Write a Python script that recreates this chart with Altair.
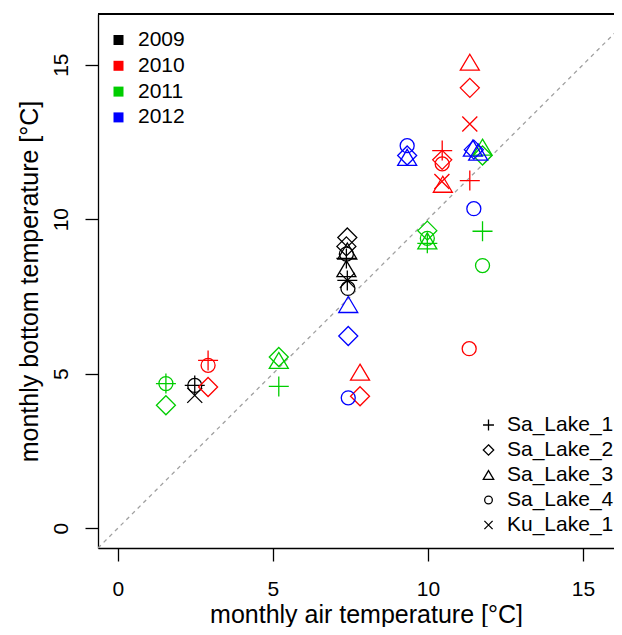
import altair as alt
import pandas as pd

# ---- data ----
years = (["2009"] * 12) + (["2010"] * 15) + (["2011"] * 14) + (["2012"] * 10)
lakes = [
    # 2009
    "Sa_Lake_1", "Sa_Lake_4", "Ku_Lake_1", "Sa_Lake_2", "Sa_Lake_2", "Sa_Lake_3",
    "Sa_Lake_4", "Sa_Lake_1", "Sa_Lake_3", "Sa_Lake_1", "Ku_Lake_1", "Sa_Lake_4",
    # 2010
    "Sa_Lake_1", "Sa_Lake_4", "Sa_Lake_2", "Sa_Lake_3", "Sa_Lake_2", "Sa_Lake_3",
    "Sa_Lake_2", "Ku_Lake_1", "Sa_Lake_1", "Sa_Lake_1", "Sa_Lake_2", "Sa_Lake_4",
    "Ku_Lake_1", "Sa_Lake_3", "Sa_Lake_4",
    # 2011
    "Sa_Lake_1", "Sa_Lake_4", "Sa_Lake_2", "Sa_Lake_2", "Sa_Lake_3", "Sa_Lake_1",
    "Sa_Lake_2", "Sa_Lake_4", "Sa_Lake_3", "Sa_Lake_1", "Sa_Lake_3", "Sa_Lake_2",
    "Sa_Lake_1", "Sa_Lake_4",
    # 2012
    "Sa_Lake_4", "Sa_Lake_2", "Sa_Lake_3", "Sa_Lake_2", "Sa_Lake_3", "Sa_Lake_3",
    "Sa_Lake_4", "Sa_Lake_3", "Sa_Lake_2", "Sa_Lake_4",
]
air = [
    # 2009
    2.48, 2.48, 2.48, 7.40, 7.37, 7.40, 7.37, 7.37, 7.37, 7.40, 7.40, 7.42,
    # 2010
    2.91, 2.91, 2.91, 7.81, 7.81, 11.35, 11.35, 11.35, 11.35, 10.46, 10.46, 10.46,
    10.45, 10.48, 11.33,
    # 2011
    1.55, 1.55, 1.55, 5.19, 5.19, 5.19, 9.98, 9.98, 9.98, 9.98, 11.76, 11.76,
    11.76, 11.76,
    # 2012
    9.33, 9.33, 9.33, 11.48, 11.45, 11.62, 11.48, 7.43, 7.43, 7.43,
]
bottom = [
    # 2009
    4.62, 4.62, 4.30, 9.41, 9.12, 8.97, 8.87, 8.73, 8.40, 8.02, 8.02, 7.76,
    # 2010
    5.43, 5.27, 4.57, 5.05, 4.27, 15.08, 14.25, 13.08, 11.25, 12.22, 11.92, 11.79,
    11.22, 11.13, 5.81,
    # 2011
    4.68, 4.68, 3.98, 5.54, 5.43, 4.59, 9.63, 9.38, 9.30, 9.22, 12.33, 12.06,
    9.61, 8.50,
    # 2012
    12.38, 12.06, 12.00, 12.25, 12.30, 12.17, 10.34, 7.24, 6.22, 4.22,
]

year_domain = ["2009", "2010", "2011", "2012"]
year_colors = ["#000000", "#FF0000", "#00CD00", "#0000FF"]
lake_domain = ["Sa_Lake_1", "Sa_Lake_2", "Sa_Lake_3", "Sa_Lake_4", "Ku_Lake_1"]
lake_shapes = [
    "M-1,0L1,0M0,-1L0,1",
    "M0,-0.95L0.95,0L0,0.95L-0.95,0Z",
    "M0,-0.8L0.95,0.8L-0.95,0.8Z",
    "M0.7,0A0.7,0.7,0,1,1,-0.7,0A0.7,0.7,0,1,1,0.7,0Z",
    "M-0.75,-0.75L0.75,0.75M-0.75,0.75L0.75,-0.75",
]
x_ticks = [0, 5, 10, 15]
y_ticks = [0, 5, 10, 15]
x_domain = [-0.64, 16.0]
y_domain = [-0.64, 16.64]
diag = [-0.64, 16.64]

df = pd.DataFrame({"year": years, "lake": lakes, "air": air, "bottom": bottom})
diag_df = pd.DataFrame({"air": diag, "bottom": diag})

W, H = 516, 534
FONT = "Liberation Sans"
LW = 1.3

xs = alt.Scale(domain=x_domain, nice=False, zero=False)
ys = alt.Scale(domain=y_domain, nice=False, zero=False)

xaxis = alt.Axis(
    values=x_ticks, title="monthly air temperature [°C]", tickSize=13,
    labelPadding=17, labelFlush=False, titleX=268, titleY=74,
    titleBaseline="alphabetic", titleAlign="center",
)
yaxis = alt.Axis(
    values=y_ticks, title="monthly bottom temperature [°C]", tickSize=13,
    labelPadding=18, labelFlush=False, labelAngle=270, labelAlign="center",
    labelBaseline="alphabetic", titleX=-61, titleY=267, titleAngle=270,
    titleBaseline="alphabetic", titleAlign="center",
)

diag_line = alt.Chart(diag_df).mark_line(
    color="#A0A0A0", strokeDash=[4, 4], strokeWidth=LW, clip=True
).encode(
    x=alt.X("air:Q", scale=xs, axis=xaxis),
    y=alt.Y("bottom:Q", scale=ys, axis=yaxis),
)

points = alt.Chart(df).mark_point(
    filled=False, strokeWidth=LW, size=400, opacity=1
).encode(
    x=alt.X("air:Q", scale=xs, axis=xaxis),
    y=alt.Y("bottom:Q", scale=ys, axis=yaxis),
    stroke=alt.Stroke("year:N", scale=alt.Scale(domain=year_domain, range=year_colors), legend=None),
    shape=alt.Shape(
        "lake:N",
        scale=alt.Scale(domain=lake_domain, range=lake_shapes),
        legend=alt.Legend(
            title=None, orient="none", legendX=380, legendY=400.5, padding=0,
            labelOffset=8, rowPadding=3, symbolSize=120, symbolStrokeWidth=LW,
            symbolStrokeColor="black", labelFontSize=21, labelFont=FONT,
            labelColor="black",
        ),
    ),
)

year_key = alt.Chart(df).transform_calculate(
    season="datum.year"
).transform_filter("false").mark_square(
    filled=True, opacity=1
).encode(
    x=alt.X("air:Q", scale=xs, axis=xaxis),
    y=alt.Y("bottom:Q", scale=ys, axis=yaxis),
    fill=alt.Fill(
        "season:N",
        scale=alt.Scale(domain=year_domain, range=year_colors),
        legend=alt.Legend(
            title=None, orient="none", legendX=10, legendY=15.5, padding=0,
            symbolType="square", symbolSize=100, symbolStrokeWidth=0,
            labelOffset=9, rowPadding=3.8, labelFontSize=21, labelFont=FONT,
            labelColor="black",
        ),
    ),
)

top_border = alt.Chart(df).mark_rule(color="black", strokeWidth=LW).encode(
    x=alt.value(0), x2=alt.value(W), y=alt.value(0)
)

chart = alt.layer(diag_line, points, year_key, top_border).resolve_legend(
    fill="independent", shape="independent"
).properties(
    width=W, height=H,
    autosize=alt.AutoSizeParams(type="none"),
    padding={"left": 90, "top": 6, "right": 0, "bottom": 79},
).configure_view(stroke="transparent").configure_axis(
    grid=False, domainColor="black", domainWidth=LW, tickColor="black",
    tickWidth=LW, labelColor="black", titleColor="black", labelFont=FONT,
    titleFont=FONT, labelFontSize=21, titleFontSize=25, titleFontWeight="normal",
)

chart.save("out.html", embed_options={"renderer": "svg", "actions": False})
